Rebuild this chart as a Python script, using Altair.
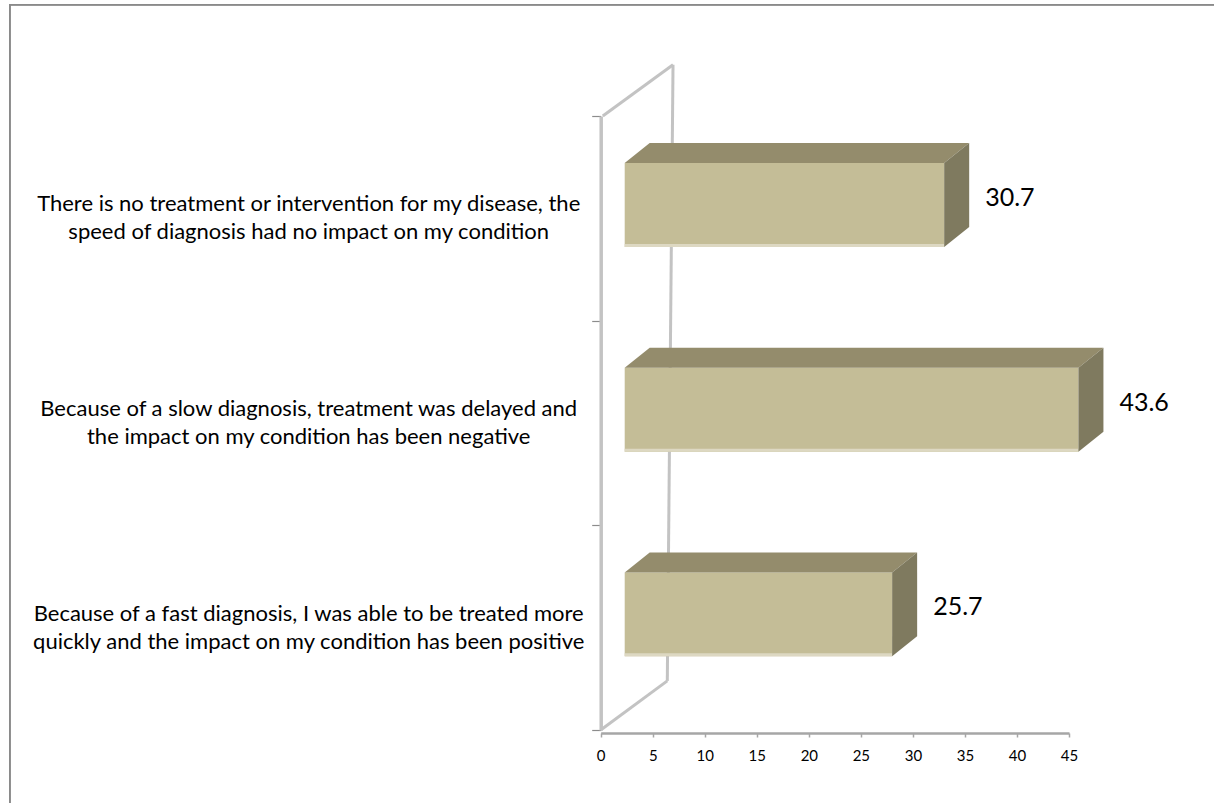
import altair as alt
import pandas as pd

# ---------------- data ----------------
categories = [
    "Because of a fast diagnosis, I was able to be treated more\nquickly and the impact on my condition has been positive",
    "Because of a slow diagnosis, treatment was delayed and\nthe impact on my condition has been negative",
    "There is no treatment or intervention for my disease, the\nspeed of diagnosis had no impact on my condition",
]
values = [25.7, 43.6, 30.7]
value_labels = ["25.7", "43.6", "30.7"]
x_ticks = [0, 5, 10, 15, 20, 25, 30, 35, 40, 45]

# ---------------- layout ----------------
W, H = 1205, 799
X_RANGE = [591.7, 1060.0]
Y_RANGE = [726.0, 112.0]
X_DOMAIN = [0, 45]
Y_DOMAIN = [0, 3]
PX_X = (X_RANGE[1] - X_RANGE[0]) / (X_DOMAIN[1] - X_DOMAIN[0])
PX_Y = (Y_RANGE[0] - Y_RANGE[1]) / (Y_DOMAIN[1] - Y_DOMAIN[0])

FRONT_X0 = 24 / PX_X          # bars start a little behind the front wall
DEPTH_X = 25 / PX_X           # 3-D depth of the bar (x)
DEPTH_Y = 20 / PX_Y           # 3-D depth of the bar (y)
FACE_LO, FACE_HI = 0.36, 0.77  # front face inside each category slot
EDGE = 3 / PX_Y

FRONT_C = "#C4BD97"
TOP_C = "#948C6C"
SIDE_C = "#7F7A5F"
EDGE_C = "#DDD8C2"
WALL_C = "#C3C3C3"
FONT = "Lato"

XS = alt.Scale(domain=X_DOMAIN, range=X_RANGE, nice=False, zero=False)
YS = alt.Scale(domain=Y_DOMAIN, range=Y_RANGE, nice=False, zero=False)
XAXIS = alt.Axis(values=x_ticks, offset=-70, grid=False, title=None,
                 domainColor="#A6A6A6", domainWidth=2.5, tickColor="#A6A6A6",
                 tickSize=4, tickWidth=1.5, labelFont=FONT, labelFontSize=15,
                 labelColor="#000000", labelPadding=11, labelFlush=False)
YAXIS = alt.Axis(values=[0, 1, 2, 3], offset=-591.7, grid=False, title=None,
                 labels=False, domainColor=WALL_C, domainWidth=3.5,
                 tickColor="#8C8C8C", tickSize=9, tickWidth=1.2)


def X(f):
    return alt.X(f, type="quantitative", scale=XS, axis=XAXIS, stack=None)


def Y(f):
    return alt.Y(f, type="quantitative", scale=YS, axis=YAXIS, stack=None)


rows_front, rows_top, rows_side, rows_lbl = [], [], [], []
for p, (cat, v, lab) in enumerate(zip(categories, values, value_labels)):
    lo, hi = p + FACE_LO, p + FACE_HI
    x1 = FRONT_X0 + v
    rows_front.append(dict(bar=p, x=FRONT_X0, x2=x1, y=lo, y2=hi, ye=lo + EDGE))
    rows_top.append(dict(bar=p, y=hi, x=FRONT_X0, x2=x1))
    rows_top.append(dict(bar=p, y=hi + DEPTH_Y, x=FRONT_X0 + DEPTH_X, x2=x1 + DEPTH_X))
    rows_side.append(dict(bar=p, x=x1, y=lo, y2=hi))
    rows_side.append(dict(bar=p, x=x1 + DEPTH_X, y=lo + DEPTH_Y, y2=hi + DEPTH_Y))
    rows_lbl.append(dict(bar=p, cat=cat, lab=lab, x=x1, yv=(lo + hi) / 2, yc=p + 0.5, x0=0))

front = pd.DataFrame(rows_front)
top = pd.DataFrame(rows_top)
side = pd.DataFrame(rows_side)
lbl = pd.DataFrame(rows_lbl)

# side wall of the 3-D frame (back edge + diagonals)
walls = pd.DataFrame([
    dict(x=6.95, y=3.25, x2=6.4, y2=0.24),
    dict(x=0.2, y=3.0, x2=6.95, y2=3.25),
    dict(x=0.0, y=0.0, x2=6.4, y2=0.24),
])

wall_layer = alt.Chart(walls).mark_rule(color=WALL_C, strokeWidth=3).encode(
    x=X("x"), y=Y("y"), x2="x2", y2="y2")

front_layer = alt.Chart(front).mark_rect(color=FRONT_C).encode(
    x=X("x"), x2="x2", y=Y("y"), y2="y2")
edge_layer = alt.Chart(front).mark_rect(color=EDGE_C).encode(
    x=X("x"), x2="x2", y=Y("y"), y2="ye")
top_layer = alt.Chart(top).mark_area(orient="horizontal", color=TOP_C).encode(
    y=Y("y"), x=X("x"), x2="x2", detail="bar:N")
side_layer = alt.Chart(side).mark_area(orient="vertical", color=SIDE_C).encode(
    x=X("x"), y=Y("y"), y2="y2", detail="bar:N")

val_text = alt.Chart(lbl).mark_text(
    align="left", baseline="middle", dx=41, dy=-7, font=FONT, fontSize=25,
    color="#000000").encode(x=X("x"), y=Y("yv"), text="lab")

cat_text = alt.Chart(lbl).mark_text(
    align="center", baseline="middle", dx=-292, dy=-14, font=FONT, fontSize=22,
    lineHeight=28, lineBreak="\n", color="#000000").encode(
    x=X("x0"), y=Y("yc"), text="cat")

border_l = alt.Chart(lbl).mark_rule(color="#8A8A8A", strokeWidth=1.6).encode(
    x=alt.value(0.8), y=alt.value(0), y2=alt.value(H))
border_t = alt.Chart(lbl).mark_rule(color="#8A8A8A", strokeWidth=1.6).encode(
    y=alt.value(0.8), x=alt.value(0), x2=alt.value(W))

chart = alt.layer(
    wall_layer, front_layer, edge_layer, top_layer, side_layer,
    val_text, cat_text, border_l, border_t,
).properties(
    width=W, height=H,
    padding={"left": 9, "top": 4, "right": 0, "bottom": 0},
    autosize=alt.AutoSizeParams(type="none"),
    background="#FFFFFF",
).configure_view(stroke=None)

chart.save("out.html", embed_options={"renderer": "svg", "actions": False})
